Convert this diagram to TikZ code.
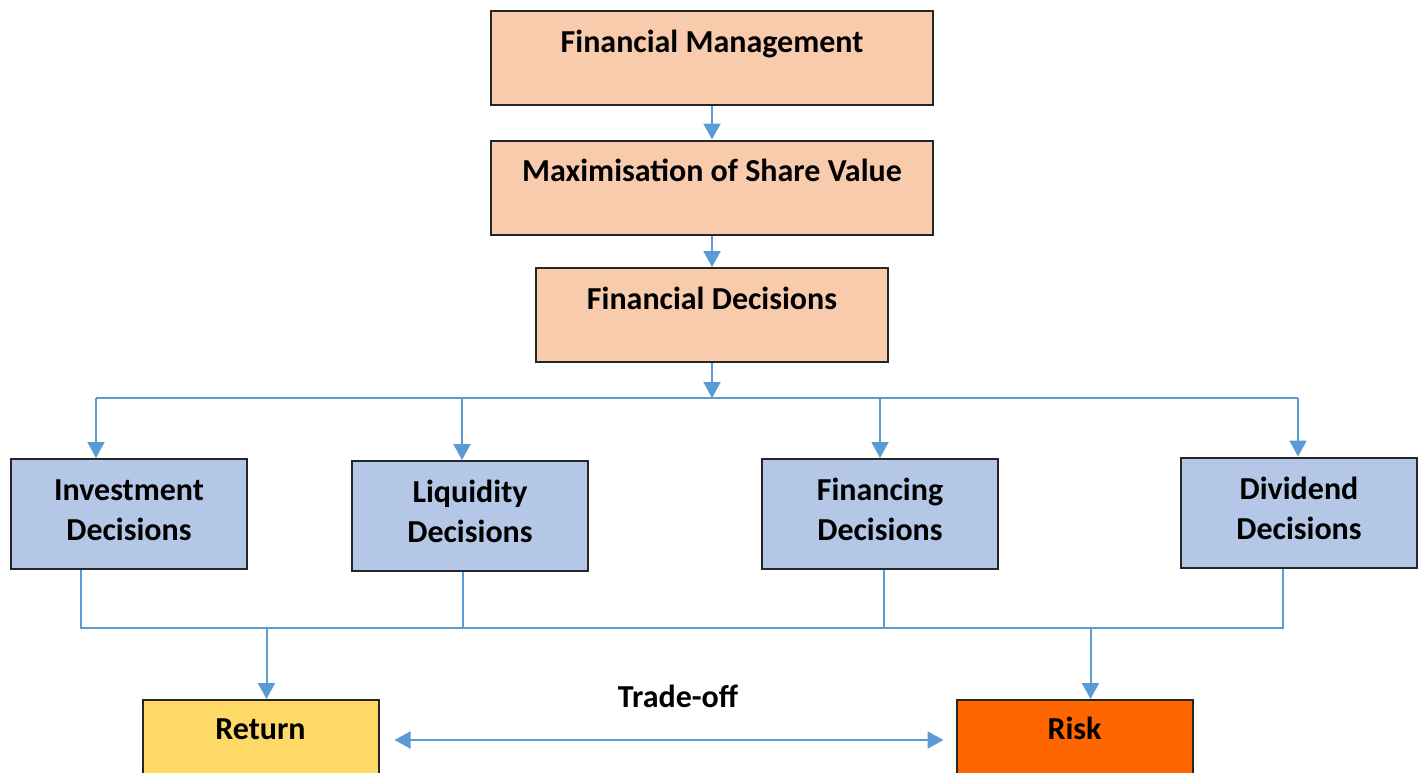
\documentclass[tikz,border=0pt]{standalone}
\usepackage{fontspec}
\setmainfont{Carlito}
\usepackage{tikz}
\usetikzlibrary{arrows.meta}

\definecolor{peach}{HTML}{F8CBAD}
\definecolor{decblue}{HTML}{B4C7E7}
\definecolor{retyellow}{HTML}{FFD966}
\definecolor{riskorange}{HTML}{FF6600}
\definecolor{wireblue}{HTML}{5B9BD5}

\begin{document}
\begin{tikzpicture}[x=0.5pt, y=-0.5pt, font=\fontsize{16}{20}\selectfont\bfseries,
        box/.style = {draw=black!85, line width=1pt, inner sep=0pt, align=center},
        topbox/.style = {box, fill=peach, minimum width=221pt, minimum height=47pt, text height=10pt, text depth=16pt},
        decbox/.style = {box, fill=decblue, minimum width=118pt, minimum height=55pt, text height=31pt, text depth=4.5pt},
        endbox/.style = {box, minimum width=118pt, minimum height=40pt, text height=10pt, text depth=11pt},
        wire/.style = {draw=wireblue, line width=1pt},
        flow/.style = {wire, -{Triangle[width=8.5pt,length=8pt]}},
        both/.style = {wire, {Triangle[width=8.5pt,length=8pt]}-{Triangle[width=8.5pt,length=8pt]}}]
        \useasboundingbox (0,0) rectangle (1422,772);

        \node[topbox] (fm) at (712,58) {Financial Management};
        \node[topbox] (msv) at (712,187.5) {Maximisation of Share Value};
        \node[topbox, minimum width=176pt] (fd) at (712,315) {Financial Decisions};

        \node[decbox] (inv) at (129,514) {Investment\\Decisions};
        \node[decbox] (liq) at (470,516) {Liquidity\\Decisions};
        \node[decbox] (fin) at (880,514) {Financing\\Decisions};
        \node[decbox] (div) at (1299,512.5) {Dividend\\Decisions};

        \node[endbox, fill=retyellow] (ret) at (260.5,740) {Return};
        \node[endbox, fill=riskorange] (risk) at (1074.5,740) {Risk};
        \node (tradeoff) at (678,696) {Trade-off};

        \draw[flow] (fm.south) -- (msv.north);
        \draw[flow] (msv.south) -- (fd.north);

        % split to the four decisions
        \coordinate (busL) at (96,398);
        \coordinate (busR) at (1298,398);
        \draw[flow] (fd.south) -- (fd.south |- busL);
        \draw[wire] (busL) -- (busR);
        \draw[flow] (busL) -- (inv.north -| busL);
        \draw[flow] ([xshift=-4pt]liq.north |- busL) -- ([xshift=-4pt]liq.north);
        \draw[flow] (fin.north |- busL) -- (fin.north);
        \draw[flow] (busR) -- (div.north -| busR);

        % join into return and risk
        \coordinate (colL) at (81,628);
        \coordinate (colR) at (1283,628);
        \draw[wire] (inv.south -| colL) -- (colL) -- (colR) -- (div.south -| colR);
        \draw[wire] ([xshift=-3.5pt]liq.south) -- ([xshift=-3.5pt]liq.south |- colL);
        \draw[wire] ([xshift=2pt]fin.south) -- ([xshift=2pt]fin.south |- colL);
        \draw[flow] ([xshift=3pt]ret.north |- colL) -- ([xshift=3pt]ret.north);
        \draw[flow] ([xshift=8pt]risk.north |- colL) -- ([xshift=8pt]risk.north);

        \draw[both] ([xshift=7.5pt]ret.east) -- ([xshift=-6pt]risk.west);

    \end{tikzpicture}
\end{document}
